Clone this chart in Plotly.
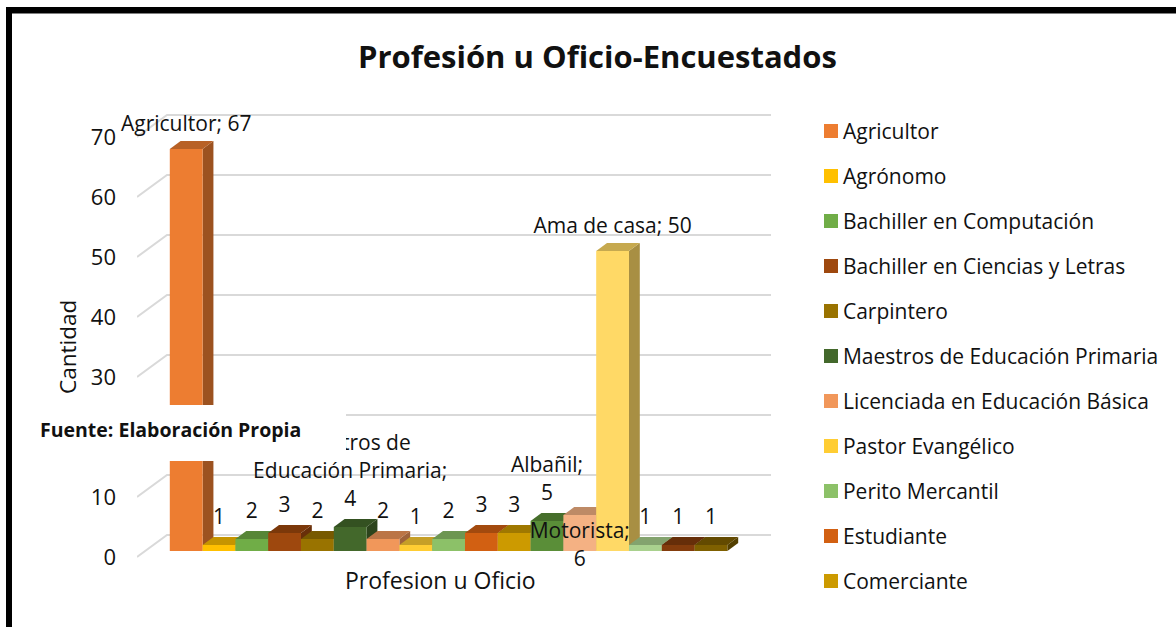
import plotly.graph_objects as go

# ---------- data ----------
categories = ["Agricultor", "Agrónomo", "Bachiller en Computación", "Bachiller en Ciencias y Letras",
              "Carpintero", "Maestros de Educación Primaria", "Licenciada en Educación Básica",
              "Pastor Evangélico", "Perito Mercantil", "Estudiante", "Comerciante", "Albañil",
              "Motorista", "Ama de casa", "Otro A", "Otro B", "Otro C"]
values = [67, 1, 2, 3, 2, 4, 2, 1, 2, 3, 3, 5, 6, 50, 1, 1, 1]
colors = ["#ED7D31", "#FFC000", "#70AD47", "#9E480E", "#997300", "#43682B", "#F1975A", "#FFCD33",
          "#8CC168", "#D26012", "#CC9A00", "#5A8E38", "#F4B183", "#FFD966", "#A9D18E", "#843C0C", "#7F6000"]
label_lines = [["Agricultor; 67"], ["1"], ["2"], ["3"], ["2"],
               ["Maestros de", "Educación Primaria;", "4"], ["2"], ["1"], ["2"], ["3"], ["3"],
               ["Albañil;", "5"], ["Motorista;", "6"], ["Ama de casa; 50"], ["1"], ["1"], ["1"]]
legend_count = 11
tick_values = [0, 10, 20, 30, 40, 50, 60, 70]
tick_labels = ["0", "10", "", "30", "40", "50", "60", "70"]   # 20 sits under the white source box

TITLE = "Profesión u Oficio-Encuestados"
X_TITLE = "Profesion u Oficio"
Y_TITLE = "Cantidad"
SOURCE = "Fuente: Elaboración Propia"

# ---------- geometry ----------
W, H = 1176, 627
FONT = "Open Sans"
PLOT_L, PLOT_R, PLOT_T, PLOT_B = 137, 771, 113, 563
X_RANGE = [-1.5, 17.83]
Y_RANGE = [-2, 73]
DX, DY = 0.33, 1.33            # depth of a bar
WALL_DY = 2.67                 # height of the back wall base
TICK_SHIFT = -1                # front end of the wall lines
WALL_X = -0.585
LABEL_GAP, TALL_GAP, LINE_STEP = 4.3, 3.85, 4.7
BELOW_BAR = {"Motorista": -7.7}


def shade(hexcol, f):
    r, g, b = [int(hexcol[i:i + 2], 16) for i in (1, 3, 5)]
    return "rgb(%d,%d,%d)" % (r * f, g * f, b * f)


def px(x):
    return x / W


def py(y):
    return 1 - y / H


fig = go.Figure()

# wall / floor lines
gx, gy = [], []
for v in tick_values:
    gx += [X_RANGE[0], WALL_X, X_RANGE[1], None]
    gy += [v + TICK_SHIFT, v + WALL_DY, v + WALL_DY, None]
fig.add_trace(go.Scatter(x=gx, y=gy, mode="lines", line=dict(color="#D9D9D9", width=2),
                         hoverinfo="skip", showlegend=False, cliponaxis=False))

# side + top faces, left to right
for i, (v, c) in enumerate(zip(values, colors)):
    l, r = i - 0.5, i + 0.5
    fig.add_trace(go.Scatter(x=[r, r + DX, r + DX, r, r], y=[0, DY, v + DY, v, 0], mode="lines",
                             fill="toself", fillcolor=shade(c, 0.66), line=dict(width=0),
                             hoverinfo="skip", showlegend=False))
    fig.add_trace(go.Scatter(x=[l, l + DX, r + DX, r, l], y=[v, v + DY, v + DY, v, v], mode="lines",
                             fill="toself", fillcolor=shade(c, 0.78), line=dict(width=0),
                             hoverinfo="skip", showlegend=False))

# front faces on an overlaying subplot
fig.add_trace(go.Bar(x=list(range(len(values))), y=values, width=1, marker=dict(color=colors, line=dict(width=0)),
                     xaxis="x2", yaxis="y2", showlegend=False, customdata=categories,
                     hovertemplate="%{customdata}: %{y}<extra></extra>"))

# data labels, one point per line
tx, ty, tt = [], [], []
for i, (v, lines, cat) in enumerate(zip(values, label_lines, categories)):
    gap = TALL_GAP if v > 10 else LABEL_GAP
    base = v + BELOW_BAR.get(cat, gap)
    for k, line in enumerate(reversed(lines)):
        tx.append(i)
        ty.append(base + k * LINE_STEP)
        tt.append(line)
fig.add_trace(go.Scatter(x=tx, y=ty, text=tt, mode="text", textposition="middle center",
                         textfont=dict(family=FONT, size=21, color="#111111"), cliponaxis=False,
                         xaxis="x2", yaxis="y2", hoverinfo="skip", showlegend=False))

# legend column
rows = list(range(legend_count))
fig.add_trace(go.Scatter(x=[0.0] * legend_count, y=rows, mode="markers",
                         marker=dict(symbol="square", size=14, color=colors[:legend_count]), cliponaxis=False,
                         xaxis="x3", yaxis="y3", hoverinfo="skip", showlegend=False))
fig.add_trace(go.Scatter(x=[0.034] * legend_count, y=[r + 0.05 for r in rows], text=categories[:legend_count],
                         mode="text", textposition="middle right",
                         textfont=dict(family=FONT, size=21, color="#111111"), cliponaxis=False,
                         xaxis="x3", yaxis="y3", hoverinfo="skip", showlegend=False))

shapes = [
    dict(type="rect", xref="paper", yref="paper", x0=px(30), x1=px(346), y0=py(405), y1=py(461),
         fillcolor="white", line_width=0, layer="above"),
    dict(type="rect", xref="paper", yref="paper", x0=px(6), x1=1, y0=py(7), y1=py(13.5),
         fillcolor="black", line_width=0, layer="above"),
    dict(type="rect", xref="paper", yref="paper", x0=px(6), x1=px(12), y0=0, y1=py(7),
         fillcolor="black", line_width=0, layer="above"),
]


def note(text, x, y, size):
    return dict(text=text, x=px(x), y=py(y), xref="paper", yref="paper", showarrow=False,
                xanchor="center", yanchor="middle", font=dict(family=FONT, size=size, color="#111111"))


annotations = [
    note("<b>%s</b>" % TITLE, 597, 56, 31),
    note(X_TITLE, 440, 580, 23),
    note(Y_TITLE, 67, 347, 22.5),
    note("<b>%s</b>" % SOURCE, 170, 429, 19.5),
]
annotations[2]["textangle"] = -90

dom_x = [px(PLOT_L), px(PLOT_R)]
dom_y = [py(PLOT_B), py(PLOT_T)]
hidden = dict(visible=False, showgrid=False, zeroline=False, automargin=False)
fig.update_layout(
    template="none",
    width=W, height=H, autosize=False, margin=dict(l=0, r=0, t=0, b=0, pad=0),
    paper_bgcolor="white", plot_bgcolor="rgba(0,0,0,0)", showlegend=False, barmode="overlay",
    xaxis=dict(domain=dom_x, range=X_RANGE, **hidden),
    yaxis=dict(domain=dom_y, range=Y_RANGE, showgrid=False, zeroline=False, showline=False, ticks="", automargin=False,
               tickvals=[v + TICK_SHIFT for v in tick_values], ticktext=tick_labels,
               ticklabelstandoff=20, tickfont=dict(family=FONT, size=22, color="#111111")),
    xaxis2=dict(domain=dom_x, range=X_RANGE, overlaying="x", anchor="y2", **hidden),
    yaxis2=dict(domain=dom_y, range=Y_RANGE, overlaying="y", anchor="x2", **hidden),
    xaxis3=dict(domain=[px(824), px(1176)], range=[-0.0199, 0.98], anchor="y3", **hidden),
    yaxis3=dict(domain=[0, 1], range=[(H - 131) / 45, -131 / 45], anchor="x3", **hidden),
    shapes=shapes, annotations=annotations,
)
fig.write_html("out.html", config={"displayModeBar": False},
               post_script="document.body.style.margin='0';document.documentElement.style.overflow='hidden';")
